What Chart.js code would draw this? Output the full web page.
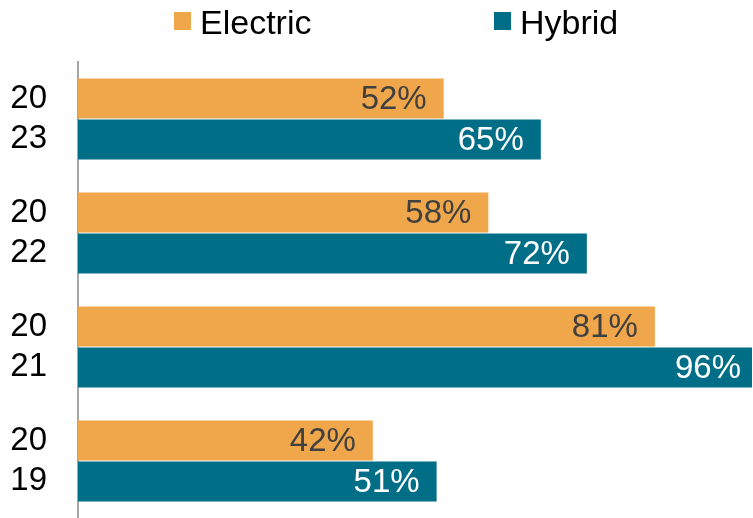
<!DOCTYPE html>
<html>
<head>
<meta charset="utf-8">
<script src="https://cdn.jsdelivr.net/npm/chart.js@4/dist/chart.umd.min.js"></script>
<style>
  body { margin: 0; background: #fff; font-family: "Liberation Sans", Arial, sans-serif; }
  #wrap { position: relative; width: 753px; height: 518px; }
  #chart { position: absolute; left: 0; top: 0; }
  .leg { position: absolute; top: 5px; font-size: 34px; line-height: 34px; color: #000; white-space: nowrap; }
  .leg i { position: absolute; top: 7px; width: 17px; height: 18px; }
</style>
</head>
<body>
<div id="wrap">
  <canvas id="chart" width="753" height="518"></canvas>
  <div id="legend"></div>
</div>
<script>
// ---------- Data ----------
const years = [["20", "23"], ["20", "22"], ["20", "21"], ["20", "19"]];
const electric = [51.6, 57.9, 81.4, 41.6];
const hybrid = [65.3, 71.8, 96, 50.6];
const seriesNames = ["Electric", "Hybrid"];
const seriesColors = ["#F0A64B", "#006E87"];
const labelColors = ["#404040", "#FFFFFF"];

const FONT = '"Liberation Sans", Arial, sans-serif';

// ---------- Legend (HTML) ----------
const legendPos = [174, 494];
document.getElementById("legend").innerHTML = seriesNames.map((n, i) =>
  `<div class="leg" style="left:${legendPos[i]}px"><i style="left:0;background:${seriesColors[i]}"></i><span style="margin-left:26px">${n}</span></div>`
).join("");

// ---------- Value labels inside bar ends ----------
const valueLabels = {
  id: "valueLabels",
  afterDatasetsDraw(chart) {
    const ctx = chart.ctx;
    const right = chart.chartArea.right;
    ctx.save();
    ctx.font = "33px " + FONT;
    ctx.textAlign = "right";
    ctx.textBaseline = "middle";
    chart.data.datasets.forEach((ds, di) => {
      ctx.fillStyle = labelColors[di];
      chart.getDatasetMeta(di).data.forEach((bar, i) => {
        const x = Math.min(bar.x, right + 6);
        ctx.fillText(Math.round(ds.data[i]) + "%", x - 17, bar.y + 1);
      });
    });
    ctx.restore();
  },
};

new Chart(document.getElementById("chart"), {
  type: "bar",
  data: {
    labels: years,
    datasets: [
      { label: seriesNames[0], data: electric, backgroundColor: seriesColors[0] },
      { label: seriesNames[1], data: hybrid, backgroundColor: seriesColors[1] },
    ],
  },
  options: {
    indexAxis: "y",
    responsive: false,
    animation: false,
    layout: { padding: { top: 62, right: 1, bottom: 0, left: 0 } },
    categoryPercentage: 0.72,
    barPercentage: 0.975,
    plugins: { legend: { display: false }, tooltip: { enabled: false } },
    scales: {
      x: { display: false, min: 0, max: 95.1 },
      y: {
        afterFit: (s) => { s.width = 78; s.paddingTop = 0; s.paddingBottom = 0; },
        grid: { display: false, drawTicks: false },
        border: { color: "#A6A6A6", width: 2 },
        ticks: { color: "#000", padding: 31, font: { family: FONT, size: 33, lineHeight: 1.21 } },
      },
    },
  },
  plugins: [valueLabels],
});
</script>
</body>
</html>
